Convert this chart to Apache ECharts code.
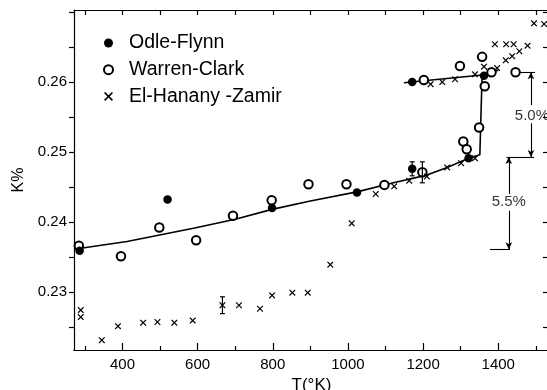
<!DOCTYPE html>
<html>
<head>
<meta charset="utf-8">
<script src="https://cdn.jsdelivr.net/npm/echarts@6/dist/echarts.min.js"></script>
<style>
html,body{margin:0;padding:0;background:#fff;}
#chart{width:547px;height:390px;}
</style>
</head>
<body>
<div id="chart"></div>
<script>
// ---- data (T in K, K%) ----
const odleFlynn = [[286,0.2359],[520,0.2432],[798,0.2420],[1024,0.2442],[1171,0.2476],[1171,0.2600],[1321,0.2491],[1362,0.2609]];
const warrenClark = [[284,0.2366],[396,0.2351],[498,0.2392],[596,0.2374],[694,0.2409],[797,0.2431],[895,0.2454],[996,0.2454],[1097,0.2453],[1198,0.2471],[1202,0.2603],[1298,0.2623],[1307,0.2515],[1316,0.2504],[1349,0.2535],[1357,0.2636],[1364,0.2594],[1382,0.2614],[1446,0.2614]];
const elHananyZamir = [[289,0.2274],[289,0.2264],[345,0.2231],[388,0.2251],[455,0.2256],[493,0.2257],[538,0.2256],[587,0.2259],[666,0.2281],[710,0.2281],[766,0.2276],[798,0.2295],[852,0.2299],[893,0.2299],[953,0.2339],[1010,0.2398],[1074,0.2440],[1123,0.2451],[1163,0.2459],[1210,0.2465],[1264,0.2478],[1301,0.2484],[1338,0.2491],[1220,0.2597],[1251,0.2600],[1285,0.2604],[1338,0.2611],[1362,0.2622],[1397,0.2620],[1420,0.2631],[1437,0.2637],[1456,0.2644],[1478,0.2652],[1391,0.2654],[1421,0.2654],[1441,0.2654],[1495,0.2684],[1522,0.2683]];
// error bars: [T, low, high]
const errorBars = [[666,0.2269,0.2293],[1171,0.2466,0.2486],[1198,0.2456,0.2486]];
// fitted curves
const lowerFit = [[271,0.2361],[412,0.2372],[589,0.2391],[700,0.2404],[798,0.2418],[900,0.2430],[1024,0.2443],[1121,0.2456],[1210,0.2467],[1264,0.2478],[1321,0.2491],[1351,0.2496],[1357,0.2610],[1400,0.2617]];
const upperFit = [[1149,0.2599],[1357,0.2610]];
// annotation brackets
const bracketLines = [
  [[1458,0.2614],[1498,0.2614]],
  [[1422,0.2493],[1495,0.2493]],
  [[1378,0.2361],[1431,0.2361]]
];
const arrowSegments = [ // [from, to] arrowhead at 'to'
  [[1487,0.2567],[1487,0.2614]],
  [[1487,0.2541],[1487,0.2493]],
  [[1428,0.2440],[1428,0.2493]],
  [[1428,0.2416],[1428,0.2361]]
];
const annotTexts = [{name:'5.0%', value:[1444,0.2551], align:'left'},{name:'5.5%', value:[1428,0.2429], align:'center'}];
// ticks
const xLabelTicks = [400,600,800,1000,1200,1400];
const xMinorTicks = [300,500,700,900,1100,1300,1500];
const xAllTicks = [300,400,500,600,700,800,900,1000,1100,1200,1300,1400,1500];
const yLabelTicks = [0.23,0.24,0.25,0.26];
const yAllTicks = [0.225,0.23,0.235,0.24,0.245,0.25,0.255,0.26,0.265,0.27];

const xMin = 271, xMax = 1535, yMin = 0.2217, yMax = 0.2703;
const FONT = 'Liberation Sans';
const black = '#000';

const xSym = 'path://M0,1.3L1.3,0L5,3.7L8.7,0L10,1.3L6.3,5L10,8.7L8.7,10L5,6.3L1.3,10L0,8.7L3.7,5Z';

const baseX = {type:'value', min:xMin, max:xMax, splitLine:{show:false},
  axisLine:{show:true, lineStyle:{color:black, width:1.2}}};
const baseY = {type:'value', min:yMin, max:yMax, splitLine:{show:false},
  axisLine:{show:true, lineStyle:{color:black, width:1.2}}};

const chart = echarts.init(document.getElementById('chart'), null, {renderer:'canvas'});
const option = {
  backgroundColor:'#fff',
  animation:false,
  textStyle:{fontFamily:FONT, color:black},
  grid:{left:74, right:-2, top:10, bottom:40, containLabel:false, outerBoundsMode:'none'},
  legend:{
    data:['Odle-Flynn','Warren-Clark','El-Hanany -Zamir'],
    orient:'vertical', left:103, top:33, padding:0,
    itemWidth:9, itemHeight:9, itemGap:6.7,
    textStyle:{fontFamily:FONT, fontSize:19.5, color:black, lineHeight:20, padding:[0,0,0,11]}
  },
  xAxis:[
    Object.assign({}, baseX, {position:'bottom',
      name:'T(°K)', nameLocation:'middle', nameGap:26,
      nameTextStyle:{fontFamily:FONT, fontSize:17, color:black},
      axisTick:{show:true, inside:true, length:7, customValues:xLabelTicks, lineStyle:{color:black, width:1.2}},
      axisLabel:{show:true, customValues:xLabelTicks, margin:7, fontFamily:FONT, fontSize:15, color:black,
        formatter:function(v){return String(Math.round(v));}}}),
    Object.assign({}, baseX, {position:'bottom',
      axisTick:{show:true, inside:true, length:4, customValues:xMinorTicks, lineStyle:{color:black, width:1.2}},
      axisLabel:{show:false}}),
    Object.assign({}, baseX, {position:'top',
      axisTick:{show:true, inside:true, length:5, customValues:xAllTicks, lineStyle:{color:black, width:1.2}},
      axisLabel:{show:false}})
  ],
  yAxis:[
    Object.assign({}, baseY, {position:'left',
      name:'K%', nameLocation:'middle', nameRotate:90, nameGap:46,
      nameTextStyle:{fontFamily:FONT, fontSize:16, color:black},
      axisTick:{show:true, inside:false, length:5, customValues:yAllTicks, lineStyle:{color:black, width:1.2}},
      axisLabel:{show:true, customValues:yLabelTicks, margin:7, fontFamily:FONT, fontSize:15, color:black,
        formatter:function(v){return v.toFixed(2);}}}),
    Object.assign({}, baseY, {position:'right',
      axisTick:{show:true, inside:true, length:6, customValues:yAllTicks, lineStyle:{color:black, width:1.2}},
      axisLabel:{show:false}})
  ],
  series:[
    {name:'lowerFit', type:'line', data:lowerFit, showSymbol:false, symbol:'none', silent:true,
      lineStyle:{color:black, width:1.6}, z:2},
    {name:'upperFit', type:'line', data:upperFit, showSymbol:false, symbol:'none', silent:true,
      lineStyle:{color:black, width:1.6}, z:2},
    {name:'Odle-Flynn', type:'scatter', data:odleFlynn, symbol:'circle', symbolSize:8.5,
      itemStyle:{color:black, opacity:1}, z:4},
    {name:'Warren-Clark', type:'scatter', data:warrenClark, symbol:'emptyCircle', symbolSize:8.5,
      itemStyle:{color:black, borderColor:black, borderWidth:1.3, opacity:1}, z:3},
    {name:'El-Hanany -Zamir', type:'scatter', data:elHananyZamir, symbol:xSym, symbolSize:6.5,
      itemStyle:{color:black, opacity:1}, z:3},
    {name:'errors', type:'custom', data:errorBars, z:5, silent:true,
      renderItem:function(params, api){
        const lo = api.coord([api.value(0), api.value(1)]);
        const hi = api.coord([api.value(0), api.value(2)]);
        const st = {stroke:black, lineWidth:1.2};
        return {type:'group', children:[
          {type:'line', shape:{x1:lo[0], y1:lo[1], x2:hi[0], y2:hi[1]}, style:st},
          {type:'line', shape:{x1:lo[0]-2.5, y1:lo[1], x2:lo[0]+2.5, y2:lo[1]}, style:st},
          {type:'line', shape:{x1:hi[0]-2.5, y1:hi[1], x2:hi[0]+2.5, y2:hi[1]}, style:st}
        ]};
      }},
    {name:'brackets', type:'line', data:[], silent:true, symbol:'none',
      markLine:{silent:true, symbol:['none','none'], animation:false,
        lineStyle:{color:black, width:1.1, type:'solid'}, label:{show:false},
        data: bracketLines.map(function(s){return [{coord:s[0]},{coord:s[1]}];})}},
    {name:'arrows', type:'line', data:[], silent:true, symbol:'none',
      markLine:{silent:true, symbol:['none','arrow'], symbolSize:[5,7], animation:false,
        lineStyle:{color:black, width:1.1, type:'solid'}, label:{show:false},
        data: arrowSegments.map(function(s){return [{coord:s[0]},{coord:s[1]}];})}},
    {name:'annot', type:'scatter', symbolSize:0, silent:true,
      data: annotTexts.map(function(t){return {name:t.name, value:t.value,
        label:{show:true, position: t.align==='left' ? 'right' : 'inside', distance:0,
          formatter:t.name, fontFamily:FONT, fontSize:15, color:black}};})}
  ]
};
chart.setOption(option);
</script>
</body>
</html>
